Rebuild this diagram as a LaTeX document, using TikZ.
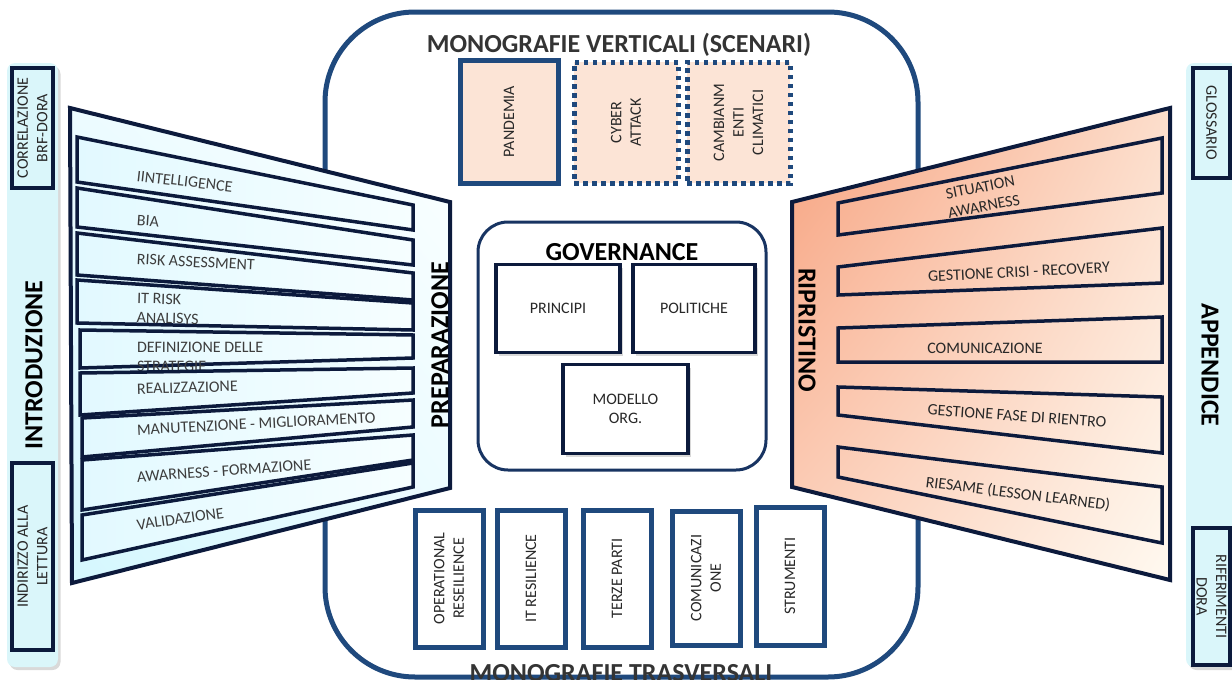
\documentclass[tikz,border=0pt]{standalone}
\usepackage{fontspec}
\setmainfont{Carlito}
\usetikzlibrary{shadows,shadings}

\definecolor{frameblue}{RGB}{31,73,125}
\definecolor{navy}{RGB}{12,26,60}
\definecolor{govblue}{RGB}{24,52,98}
\definecolor{peach}{RGB}{252,228,214}
\definecolor{pale}{RGB}{218,246,250}
\definecolor{ink}{RGB}{40,40,40}
\definecolor{titlegray}{RGB}{52,52,52}

\begin{document}
\begin{tikzpicture}[x=1pt,y=-1pt,
  every node/.style={inner sep=0pt, outer sep=0pt, text=ink},
  small/.style={font=\fontsize{16}{19.5}\selectfont, align=center},
  stxt/.style={font=\fontsize{16}{19.5}\selectfont, align=left, text=ink!90},
  big/.style={font=\fontsize{26}{30}\selectfont\bfseries, text=black},
  softshadow/.style={drop shadow={opacity=.3, shadow xshift=2.5pt, shadow yshift=-3pt}},
  colbox/.style={draw=navy, line width=3.5pt, fill=pale},
  scenbox/.style={draw=frameblue, line width=5pt, fill=peach},
  dotbox/.style={scenbox, dash pattern=on 4.5pt off 4.5pt},
  transbox/.style={draw=frameblue, line width=5pt, fill=white},
  govbox/.style={draw=navy, line width=3.5pt, fill=white, softshadow},
  lstripe/.style={draw=navy, line width=3.5pt, line join=miter,
    left color={rgb,255:red,226;green,249;blue,255},
    right color={rgb,255:red,246;green,254;blue,255}},
  rstripe/.style={draw=navy, line width=3.5pt, line join=miter},
]
\useasboundingbox (0,0) rectangle (1232,680);

% ---------- side columns ----------
\path[fill=pale, rounded corners=8pt, softshadow] (7,63) rectangle (58,667);
\node[colbox, minimum width=41pt, minimum height=120pt] (correlbox) at (32.5,128) {};
\node[small, rotate=90] (correl) at (correlbox.center) {CORRELAZIONE\\BRF-DORA};
\node[colbox, minimum width=41pt, minimum height=187pt] (indirbox) at (32.5,556.5) {};
\node[small, rotate=90] (indir) at (indirbox.center) {INDIRIZZO ALLA\\LETTURA};
\node[big, rotate=90] (intro) at (34,365) {INTRODUZIONE};

\path[fill=pale, rounded corners=8pt, softshadow] (1186,63) rectangle (1250,667);
\node[colbox, minimum width=37pt, minimum height=110pt] (glossbox) at (1211.5,123) {};
\node[small, rotate=-90] (gloss) at (glossbox.center) {GLOSSARIO};
\node[colbox, minimum width=37pt, minimum height=137pt] (rifbox) at (1211.5,596.5) {};
\node[small, rotate=-90] (rif) at (rifbox.center) {RIFERIMENTI\\DORA};
\node[big, rotate=-90] (append) at (1210,365) {APPENDICE};

% ---------- central frame ----------
\draw[frameblue, line width=5pt, fill=white, rounded corners=90pt] (325,12) rectangle (918,677);
\node[big, text=titlegray, anchor=base] (vtitle) at (619,52) {MONOGRAFIE VERTICALI (SCENARI)};

% vertical monographs (scenarios)
\node[scenbox, minimum width=98pt, minimum height=123pt] (pand) at (509,121.5) {};
\node[small, rotate=90] (pandt) at (pand.center) {PANDEMIA};
\node[dotbox, minimum width=104pt, minimum height=121pt] (cyber) at (626,122.5) {};
\node[small, rotate=90] (cybert) at (cyber.center) {CYBER\\ATTACK};
\node[dotbox, minimum width=103pt, minimum height=121pt] (camb) at (738.5,122.5) {};
\node[small, rotate=90] (cambt) at (camb.center) {CAMBIANM\\ENTI\\CLIMATICI};

% governance
\node[draw=govblue, line width=3pt, rounded corners=30pt, fill=white,
      minimum width=288pt, minimum height=248pt] (gov) at (622,346) {};
\node[big] (govt) at (622,252) {GOVERNANCE};
\node[govbox, minimum width=124pt, minimum height=88pt] (princ) at (558,308.5) {};
\node[small] (princt) at (princ.center) {PRINCIPI};
\node[govbox, minimum width=122pt, minimum height=88pt] (polit) at (694,308.5) {};
\node[small] (politt) at (polit.center) {POLITICHE};
\node[govbox, minimum width=125pt, minimum height=89pt] (model) at (625.5,409) {};
\node[small] (modelt) at (model.center) {MODELLO\\ORG.};

% transversal monographs
\node[transbox, minimum width=68pt, minimum height=137pt] (opres) at (449,578.5) {};
\node[small, rotate=90] (oprest) at (opres.center) {OPERATIONAL\\RESEILIENCE};
\node[transbox, minimum width=68pt, minimum height=137pt] (itres) at (531,578.5) {};
\node[small, rotate=90] (itrest) at (itres.center) {IT RESILIENCE};
\node[transbox, minimum width=68pt, minimum height=137pt] (terze) at (617,578.5) {};
\node[small, rotate=90] (terzet) at (terze.center) {TERZE PARTI};
\node[transbox, minimum width=68pt, minimum height=134pt] (comun) at (706,578) {};
\node[small, rotate=90] (comunt) at (comun.center) {COMUNICAZI\\ONE};
\node[transbox, minimum width=68pt, minimum height=138pt] (strum) at (790,576) {};
\node[small, rotate=90] (strumt) at (strum.center) {STRUMENTI};
\node[big, text=titlegray, anchor=base] (ttitle) at (621,681) {MONOGRAFIE TRASVERSALI};

% ---------- preparation panel ----------
\path[draw=navy, line width=4pt, line join=miter,
      upper left={rgb,255:red,236;green,251;blue,255},
      upper right={rgb,255:red,251;green,255;blue,255},
      lower left={rgb,255:red,212;green,247;blue,254},
      lower right={rgb,255:red,234;green,251;blue,255}]
  (70,108) -- (450,202) -- (450,488) -- (72,583) -- cycle;

\path[lstripe] (77,137) -- (413,205) -- (413,230) -- (77,182) -- cycle;
\node[stxt, anchor=west, rotate=-6.5] (p1) at (137,176) {IINTELLIGENCE};
\path[lstripe] (77,188) -- (413,240) -- (413,265) -- (77,227) -- cycle;
\node[stxt, anchor=west, rotate=-4] (p2) at (137,220) {BIA};
\path[lstripe] (77,233) -- (413,273) -- (413,300) -- (77,275) -- cycle;
\node[stxt, anchor=west, rotate=-3] (p3) at (137,259) {RISK ASSESSMENT};
\path[lstripe] (77,280) -- (413,303) -- (413,330) -- (77,323) -- cycle;
\node[stxt, anchor=west, rotate=-1.5] (p4) at (137,308) {IT RISK\\ANALISYS};
\path[lstripe] (80,330) -- (413,335) -- (413,358) -- (80,368) -- cycle;
\node[stxt, anchor=west] (p5) at (137,357) {DEFINIZIONE DELLE\\STRATEGIE};
\path[lstripe] (80,373) -- (413,368) -- (413,393) -- (80,415) -- cycle;
\node[stxt, anchor=west, rotate=1.5] (p6) at (137,389) {REALIZZAZIONE};
\path[lstripe] (82,418) -- (413,400) -- (413,427) -- (82,457) -- cycle;
\node[stxt, anchor=west, rotate=3] (p7) at (137,430) {MANUTENZIONE - MIGLIORAMENTO};
\path[lstripe] (82,460) -- (413,435) -- (413,460) -- (82,510) -- cycle;
\node[stxt, anchor=west, rotate=4] (p8) at (137,477) {AWARNESS - FORMAZIONE};
\path[lstripe] (82,515) -- (413,463) -- (413,487) -- (82,560) -- cycle;
\node[stxt, anchor=west, rotate=8] (p9) at (137,525) {VALIDAZIONE};

\node[big, rotate=90] (prep) at (440,345) {PREPARAZIONE};

% ---------- recovery panel ----------
\path[draw=navy, line width=4pt, line join=miter,
      upper left={rgb,255:red,247;green,162;blue,127},
      upper right={rgb,255:red,252;green,222;blue,204},
      lower left={rgb,255:red,252;green,212;blue,192},
      lower right={rgb,255:red,255;green,249;blue,240}]
  (792,202) -- (1170,108) -- (1170,580) -- (792,487) -- cycle;

\path[rstripe] (838,203) -- (1162,138) -- (1162,193) -- (838,235) -- cycle;
\path[rstripe] (838,267) -- (1162,228) -- (1162,283) -- (838,295) -- cycle;
\path[rstripe] (838,328) -- (1162,317) -- (1162,362) -- (838,362) -- cycle;
\path[rstripe] (838,387) -- (1162,397) -- (1162,453) -- (838,415) -- cycle;
\path[rstripe] (838,447) -- (1162,487) -- (1162,543) -- (838,477) -- cycle;

\node[small, rotate=11] (r1) at (982,197) {SITUATION\\AWARNESS};
\node[small, rotate=3] (r2) at (1019,272) {GESTIONE CRISI - RECOVERY};
\node[small] (r3) at (985,348) {COMUNICAZIONE};
\node[small, rotate=-4] (r4) at (1017,416) {GESTIONE FASE DI RIENTRO};
\node[small, rotate=-7] (r5) at (1018,494) {RIESAME (LESSON LEARNED)};

\node[big, rotate=-90] (ripr) at (807,330) {RIPRISTINO};
\end{tikzpicture}
\end{document}
